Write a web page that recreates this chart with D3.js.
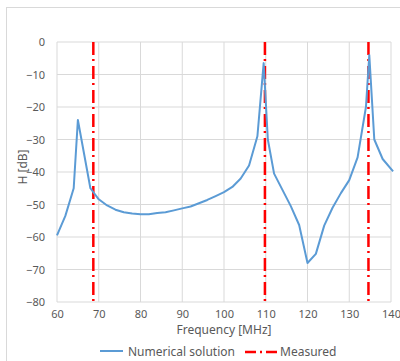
<!DOCTYPE html>
<html>
<head>
<meta charset="utf-8">
<script src="https://cdn.jsdelivr.net/npm/d3@7"></script>
<style>
  body { margin: 0; background: #fff; }
  text { font-family: "Noto Sans", sans-serif; fill: #595959; }
</style>
</head>
<body>
<div id="chart"></div>
<script>
// Numerical solution (frequency MHz, H dB)
var freqs = [60, 62, 64, 65, 68, 70, 72, 74, 76, 78, 80, 82, 84, 86, 88, 90, 92, 94, 96, 98, 100,
  102, 104, 106, 108, 109.5, 110.5, 112, 114, 116, 118, 120, 122, 124, 126, 128, 130, 132, 134, 134.8, 136, 138, 140.5];
var hValues = [-59.5, -53.5, -45, -24, -45, -48.4, -50.3, -51.6, -52.4, -52.8, -53, -53, -52.6, -52.4, -51.8, -51.2, -50.6, -49.6, -48.6, -47.4, -46.2,
  -44.6, -42, -38, -29, -6.5, -30, -40.5, -45.5, -50.5, -56.3, -68, -65.2, -56.5, -51, -46.5, -42.5, -35.5, -20, -4, -30, -36, -39.8];
// Measured resonances
var measured = [68.7, 109.8, 134.6];

var xTicks = [60, 70, 80, 90, 100, 110, 120, 130, 140];
var yTicks = [0, -10, -20, -30, -40, -50, -60, -70, -80];

var svgWidth = 400, svgHeight = 361;
var margin = { top: 42, right: 9, bottom: 59, left: 57 };
var width = svgWidth - margin.left - margin.right;
var height = svgHeight - margin.top - margin.bottom;

var svg = d3.select("#chart").append("svg")
  .attr("width", svgWidth)
  .attr("height", svgHeight);

// chart border
svg.append("rect")
  .attr("x", 6.5).attr("y", 7.5)
  .attr("width", 420).attr("height", 400)
  .attr("fill", "none")
  .attr("stroke", "#d9d9d9");

var g = svg.append("g")
  .attr("transform", `translate(${margin.left}, ${margin.top})`);

var x = d3.scaleLinear().domain([60, 140]).range([0, width]);
var y = d3.scaleLinear().domain([-80, 0]).range([height, 0]);

// grid
g.selectAll(".vgrid").data(xTicks).enter().append("line")
  .attr("x1", d => x(d)).attr("x2", d => x(d))
  .attr("y1", 0).attr("y2", height)
  .attr("stroke", "#d9d9d9").attr("stroke-width", 1);
g.selectAll(".hgrid").data(yTicks).enter().append("line")
  .attr("x1", 0).attr("x2", width)
  .attr("y1", d => y(d)).attr("y2", d => y(d))
  .attr("stroke", "#d9d9d9").attr("stroke-width", 1);

// axes (labels only)
var xAxis = g.append("g")
  .attr("transform", `translate(0, ${height})`)
  .call(d3.axisBottom(x).tickValues(xTicks).tickSize(0).tickPadding(8));
var yAxis = g.append("g")
  .call(d3.axisLeft(y).tickValues(yTicks).tickSize(0).tickPadding(12));
[xAxis, yAxis].forEach(function(a) {
  a.select(".domain").remove();
  a.selectAll("text").style("font-size", "11px").attr("fill", "#595959")
    .style("font-family", "\"Noto Sans\", sans-serif");
});

// measured lines
g.selectAll(".meas").data(measured).enter().append("line")
  .attr("x1", d => x(d)).attr("x2", d => x(d))
  .attr("y1", 0).attr("y2", height)
  .attr("stroke", "#ff0000").attr("stroke-width", 2.5)
  .attr("stroke-dasharray", "13,4,2,5");

// numerical solution
var line = d3.line()
  .x((d, i) => x(freqs[i]))
  .y(d => y(d));
g.append("path")
  .datum(hValues)
  .attr("d", line)
  .attr("fill", "none")
  .attr("stroke", "#5b9bd5")
  .attr("stroke-width", 2)
  .attr("stroke-linejoin", "round");

// axis titles
svg.append("text")
  .attr("x", margin.left + width / 2)
  .attr("y", 334)
  .attr("text-anchor", "middle")
  .style("font-size", "12px")
  .text("Frequency [MHz]");

svg.append("text")
  .attr("transform", "translate(27, 167) rotate(-90)")
  .attr("text-anchor", "middle")
  .style("font-size", "12px")
  .text("H [dB]");

// legend
var legend = svg.append("g");
legend.append("line")
  .attr("x1", 100).attr("x2", 123).attr("y1", 351).attr("y2", 351)
  .attr("stroke", "#5b9bd5").attr("stroke-width", 2);
legend.append("text")
  .attr("x", 128).attr("y", 355.5)
  .style("font-size", "12px")
  .text("Numerical solution");
legend.append("line")
  .attr("x1", 245).attr("x2", 278).attr("y1", 352).attr("y2", 352)
  .attr("stroke", "#ff0000").attr("stroke-width", 2.5)
  .attr("stroke-dasharray", "11,4,2,4");
legend.append("text")
  .attr("x", 280).attr("y", 356)
  .style("font-size", "12px")
  .text("Measured");
</script>
</body>
</html>
